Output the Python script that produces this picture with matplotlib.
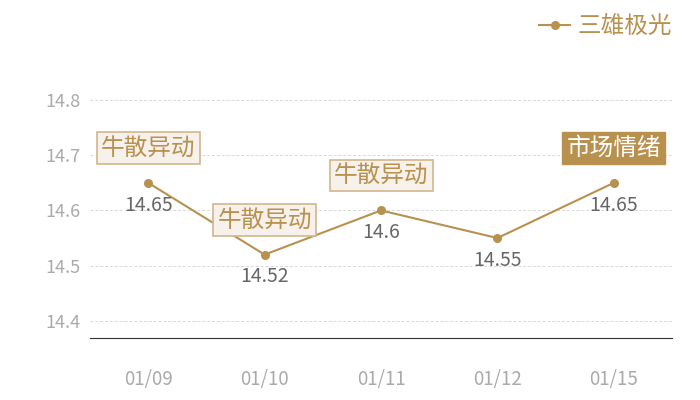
import matplotlib.pyplot as plt

plt.rcParams['font.family'] = ['Noto Sans CJK SC', 'DejaVu Sans']

dates = ['01/09', '01/10', '01/11', '01/12', '01/15']
prices = [14.65, 14.52, 14.6, 14.55, 14.65]
price_labels = ['14.65', '14.52', '14.6', '14.55', '14.65']
series_name = '三雄极光'
# index of point -> (tag text, highlighted)
tags = {0: ('牛散异动', False), 1: ('牛散异动', False), 2: ('牛散异动', False), 4: ('市场情绪', True)}

gold = '#b8914f'

fig = plt.figure(figsize=(7, 4), dpi=100)
ax = fig.add_axes([0.1286, 0.155, 0.8314, 0.595])

x = list(range(len(dates)))
ax.plot(x, prices, color=gold, lw=1.5, marker='o', ms=5.5, label=series_name, clip_on=False, zorder=3)

for i, (p, lab) in enumerate(zip(prices, price_labels)):
    ax.annotate(lab, (i, p), xytext=(0, -16), textcoords='offset points', ha='center', va='center',
                fontsize=14, color='#666666', zorder=4)

for i, (txt, hi) in tags.items():
    if hi:
        box = dict(boxstyle='square,pad=0.18', fc=gold, ec=gold, lw=1)
        col = 'white'
    else:
        box = dict(boxstyle='square,pad=0.18', fc='#f6f1ea', ec='#d2b68c', lw=1.2)
        col = gold
    ax.annotate(txt, (i, prices[i]), xytext=(0, 25), textcoords='offset points', ha='center', va='center',
                fontsize=17, color=col, bbox=box, zorder=5)

ax.set_xlim(-0.5, 4.5)
ax.set_ylim(14.369, 14.8)
ax.set_yticks([14.4, 14.5, 14.6, 14.7, 14.8])
ax.set_xticks(x)
ax.set_xticklabels(dates)
ax.grid(axis='y', color='#d8d8d8', ls=(0, (3, 2)), lw=0.7)
for s in ['top', 'right', 'left']:
    ax.spines[s].set_visible(False)
ax.spines['bottom'].set_color('#333333')
ax.tick_params(axis='both', length=0, labelcolor='#aaaaaa')
ax.tick_params(axis='x', pad=22, labelsize=13.5)
ax.tick_params(axis='y', pad=7, labelsize=13)

leg = fig.legend(loc='upper right', bbox_to_anchor=(0.99, 1.015), frameon=False, fontsize=17,
                 handlelength=1.3, handletextpad=0.3)
for t in leg.get_texts():
    t.set_color(gold)

fig.savefig('out.png', dpi=100)
